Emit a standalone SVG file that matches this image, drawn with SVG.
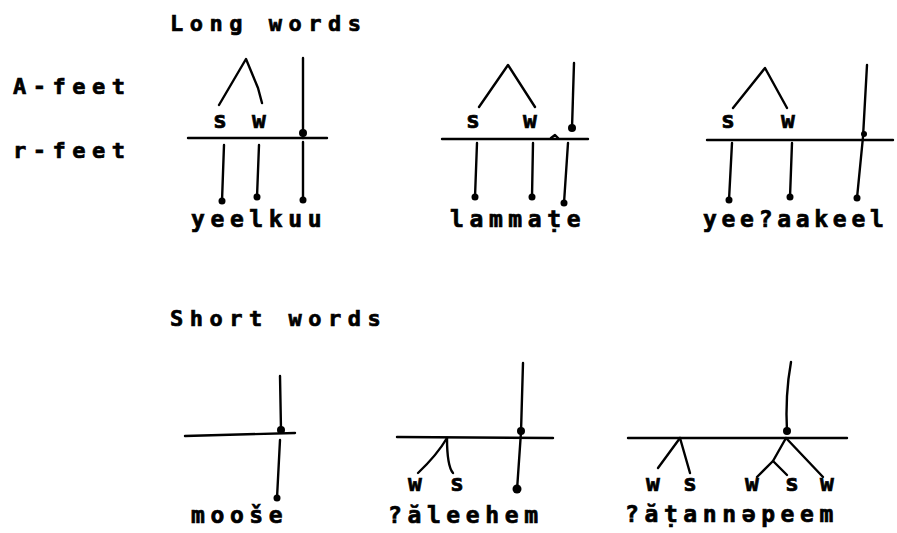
<svg xmlns="http://www.w3.org/2000/svg" width="897" height="533" viewBox="0 0 897 533">
<style>
.t{font-family:"DejaVu Sans Mono","Liberation Mono",monospace;font-weight:bold;fill:#000;stroke:#000;stroke-width:0.7}
.h{font-size:22px;letter-spacing:6.5px}
.w{font-size:23px;letter-spacing:5.6px}
.l{font-size:23px;text-anchor:middle}
.ln{fill:none;stroke:#000;stroke-width:2.4;stroke-linecap:round;stroke-linejoin:round}
.d{fill:#000}
</style>
<rect width="897" height="533" fill="#fff"/>
<g id="headings">
<text class="t h" x="170" y="31">Long words</text>
<text class="t h" x="13" y="94">A-feet</text>
<text class="t h" x="13" y="158">r-feet</text>
<text class="t h" x="170" y="326">Short words</text>
</g>
<g id="connectors" class="ln">
<path d="M219,105 L246,59 L258,88 L262,103"/>
<path d="M188,138 L327,138"/>
<path d="M303,58 L303,138"/>
<path d="M224,145 L222,201"/>
<path d="M259,145 L257,197"/>
<path d="M303,142 L303,200"/>
<path d="M479,107 L508,65 L535,107"/>
<path d="M442,139 L588,139"/>
<path d="M551,138 L555,135 L558,138"/>
<path d="M574,63 L572,128"/>
<path d="M477,143 L475,197"/>
<path d="M533,143 L532,197"/>
<path d="M568,143 L564,203"/>
<path d="M733,108 L765,68 L787,108"/>
<path d="M707,140 L893,140"/>
<path d="M867,65 L863,137 L857,198"/>
<path d="M732,143 L729,200"/>
<path d="M792,143 L790,197"/>
<path d="M185,436 L295,433"/>
<path d="M280,376 L281,430"/>
<path d="M280,440 L277,498"/>
<path d="M397,437 L553,438"/>
<path d="M523,363 L521,432 L517,490"/>
<path d="M447,438 Q437,455 418,473"/>
<path d="M447,438 Q447,466 453,473"/>
<path d="M628,438 L847,438"/>
<path d="M791,362 Q785,395 787,432"/>
<path d="M680,438 L658,468"/>
<path d="M680,438 L690,473"/>
<path d="M786,438 L773,461 L757,477"/>
<path d="M773,461 L787,475"/>
<path d="M786,438 L823,477"/>
</g>
<g id="tree-yeelkuu">
<text class="t l" x="220" y="128">s</text>
<text class="t l" x="259" y="128">w</text>
<circle class="d" cx="303" cy="133" r="4"/>
<circle class="d" cx="222" cy="201" r="3.5"/>
<circle class="d" cx="257" cy="197" r="3.5"/>
<circle class="d" cx="303" cy="200" r="3.5"/>
<text class="t w" x="191" y="227">yeelkuu</text>
</g>
<g id="tree-lammate">
<text class="t l" x="473" y="128">s</text>
<text class="t l" x="530" y="128">w</text>
<circle class="d" cx="572" cy="128" r="4"/>
<circle class="d" cx="475" cy="197" r="3.5"/>
<circle class="d" cx="532" cy="197" r="3.5"/>
<circle class="d" cx="564" cy="203" r="3.5"/>
<text class="t w" x="450" y="227">lammaṭe</text>
</g>
<g id="tree-yeeaakeel">
<text class="t l" x="728" y="128">s</text>
<text class="t l" x="788" y="128">w</text>
<circle class="d" cx="864" cy="134" r="3"/>
<circle class="d" cx="729" cy="200" r="3.5"/>
<circle class="d" cx="790" cy="197" r="3.5"/>
<circle class="d" cx="857" cy="198" r="3.5"/>
<text class="t w" x="703" y="227" style="letter-spacing:4.7px">yee?aakeel</text>
</g>
<g id="tree-moose">
<circle class="d" cx="281" cy="430" r="4"/>
<circle class="d" cx="277" cy="498" r="3.5"/>
<text class="t w" x="191" y="523">mooše</text>
</g>
<g id="tree-aleehem">
<text class="t l" x="415" y="491">w</text>
<text class="t l" x="457" y="491">s</text>
<circle class="d" cx="521" cy="431" r="4"/>
<circle class="d" cx="517" cy="489" r="4.5"/>
<text class="t w" x="388" y="523">?ăleehem</text>
</g>
<g id="tree-atannepeem">
<text class="t l" x="653" y="491">w</text>
<text class="t l" x="690" y="491">s</text>
<text class="t l" x="752" y="491">w</text>
<text class="t l" x="792" y="491">s</text>
<text class="t l" x="827" y="491">w</text>
<circle class="d" cx="787" cy="431" r="4"/>
<text class="t w" x="625" y="522">?ăṭannəpeem</text>
</g>
</svg>
